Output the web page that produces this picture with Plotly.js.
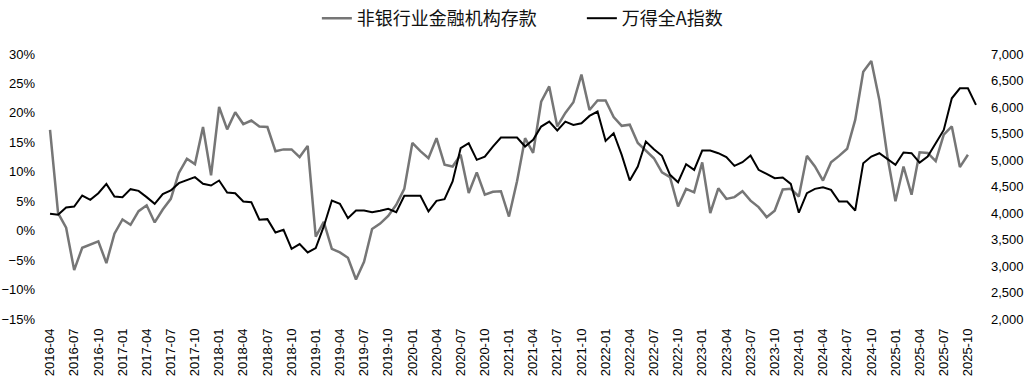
<!DOCTYPE html>
<html>
<head>
<meta charset="utf-8">
<script src="https://cdn.plot.ly/plotly-3.0.1.min.js"></script>
<style>html,body{margin:0;padding:0;background:#fff;}#chart{width:1035px;height:384px;}</style>
</head>
<body>
<div id="chart"></div>
<script>
const months = [
"2016-04","2016-05","2016-06","2016-07","2016-08","2016-09","2016-10","2016-11","2016-12",
"2017-01","2017-02","2017-03","2017-04","2017-05","2017-06","2017-07","2017-08","2017-09","2017-10","2017-11","2017-12",
"2018-01","2018-02","2018-03","2018-04","2018-05","2018-06","2018-07","2018-08","2018-09","2018-10","2018-11","2018-12",
"2019-01","2019-02","2019-03","2019-04","2019-05","2019-06","2019-07","2019-08","2019-09","2019-10","2019-11","2019-12",
"2020-01","2020-02","2020-03","2020-04","2020-05","2020-06","2020-07","2020-08","2020-09","2020-10","2020-11","2020-12",
"2021-01","2021-02","2021-03","2021-04","2021-05","2021-06","2021-07","2021-08","2021-09","2021-10","2021-11","2021-12",
"2022-01","2022-02","2022-03","2022-04","2022-05","2022-06","2022-07","2022-08","2022-09","2022-10","2022-11","2022-12",
"2023-01","2023-02","2023-03","2023-04","2023-05","2023-06","2023-07","2023-08","2023-09","2023-10","2023-11","2023-12",
"2024-01","2024-02","2024-03","2024-04","2024-05","2024-06","2024-07","2024-08","2024-09","2024-10","2024-11","2024-12",
"2025-01","2025-02","2025-03","2025-04","2025-05","2025-06","2025-07","2025-08","2025-09","2025-10","2025-11"
];

// 非银行业金融机构存款 同比 (%), left axis
const depositYoY = [
17.1,3.0,0.5,-6.7,-2.9,-2.4,-1.8,-5.5,-0.5,
1.9,1.0,3.3,4.3,1.4,3.6,5.4,9.8,12.2,11.3,17.6,9.4,
21.0,17.2,20.1,18.1,18.7,17.7,17.6,13.5,13.8,13.8,12.5,14.4,
-1.0,1.5,-3.1,-3.7,-4.6,-8.3,-5.3,0.3,1.2,2.5,4.4,7.1,
14.9,13.5,12.3,15.7,11.2,10.9,12.9,6.4,9.9,6.1,6.6,6.7,
2.4,8.4,15.7,13.2,21.9,24.5,17.7,20.0,21.8,26.5,20.5,22.1,
22.1,19.3,17.8,18.0,14.9,13.6,12.3,9.9,9.1,4.1,7.1,6.5,
11.6,3.0,7.2,5.4,5.7,6.7,5.1,4.0,2.3,3.4,7.0,7.1,
5.8,12.7,10.9,8.5,11.6,12.7,13.9,18.8,27.0,28.8,22.2,12.6,
5.0,10.9,6.1,13.3,13.2,11.8,16.3,17.7,10.8,12.9
];

// 万得全A指数, right axis
const windA = [
3985,3966,4104,4123,4330,4249,4374,4550,4312,
4299,4450,4418,4299,4173,4356,4425,4563,4613,4676,4550,4519,
4613,4387,4374,4217,4205,3872,3884,3633,3683,3325,3413,3256,
3338,3746,4236,4173,3903,4048,4048,4016,4041,4079,4016,4324,
4324,4324,4029,4230,4261,4594,5223,5317,5003,5065,5254,5424,
5424,5424,5254,5380,5631,5725,5556,5725,5662,5694,5832,5914,
5361,5505,5097,4613,4877,5348,5204,5080,4720,4580,4921,4814,
5179,5179,5128,5053,4890,4959,5084,4814,4739,4657,4670,4550,
4005,4374,4456,4487,4437,4217,4217,4048,4940,5065,5128,5015,
4908,5141,5128,4952,5065,5317,5568,6165,6353,6353,6039
];

const tickLabels = [
"2016-04","2016-07","2016-10","2017-01","2017-04","2017-07","2017-10",
"2018-01","2018-04","2018-07","2018-10","2019-01","2019-04","2019-07","2019-10",
"2020-01","2020-04","2020-07","2020-10","2021-01","2021-04","2021-07","2021-10",
"2022-01","2022-04","2022-07","2022-10","2023-01","2023-04","2023-07","2023-10",
"2024-01","2024-04","2024-07","2024-10","2025-01","2025-04","2025-07","2025-10"
];

const seriesNames = ["非银行业金融机构存款", "万得全A指数"];

// tick marks on the zero-crossing category axis: boundaries every 3 categories
const boundaryTicks = tickLabels.map(t => months.indexOf(t) - 0.5);

const tickFont = {family: "Liberation Sans, Arial, sans-serif", size: 13, color: "#000"};

// layout geometry (pixels)
const H = 384, mT = 0, mB = 65, plotTop = 54;
const paperH = H - mT - mB;
const domTop = (H - mB - plotTop) / paperH;
const yRange = [-15, 30];
const zeroPos = domTop * (0 - yRange[0]) / (yRange[1] - yRange[0]);

const traces = [
  {x: months, y: depositYoY, name: seriesNames[0], type: "scatter", mode: "lines",
   line: {color: "#767676", width: 2.5}, xaxis: "x", yaxis: "y"},
  {x: months.slice(0, windA.length), y: windA, name: seriesNames[1], type: "scatter", mode: "lines",
   line: {color: "#000000", width: 2}, xaxis: "x", yaxis: "y2"}
];

const layout = {
  width: 1035, height: H,
  margin: {l: 46, r: 55, t: mT, b: mB},
  paper_bgcolor: "#fff", plot_bgcolor: "#fff",
  showlegend: true,
  legend: {orientation: "h", x: 0.29, xanchor: "left", y: 1, yanchor: "top",
    entrywidth: 220, entrywidthmode: "pixels",
    font: {family: "Noto Sans CJK SC, sans-serif", size: 18, color: "#111"}, itemwidth: 30, bgcolor: "rgba(0,0,0,0)"},
  xaxis: {type: "category", range: [-0.5, months.length - 0.5], tickmode: "array",
    tickvals: tickLabels, ticktext: tickLabels, tickangle: -90, showline: false, ticks: "",
    showgrid: false, zeroline: false, tickfont: tickFont, ticklabelstandoff: 6, fixedrange: true},
  xaxis2: {type: "linear", overlaying: "x", anchor: "free", position: zeroPos,
    range: [-0.5, months.length - 0.5], tickmode: "array", tickvals: boundaryTicks,
    showticklabels: false, ticks: "outside", ticklen: 4, tickwidth: 1, tickcolor: "#c8c8c8",
    showline: true, linecolor: "#c8c8c8", linewidth: 2, showgrid: false, zeroline: false},
  yaxis: {domain: [0, domTop], range: yRange, dtick: 5, tick0: 0, ticksuffix: "%", showgrid: false, zeroline: false,
    showline: false, ticks: "", tickfont: tickFont, ticklabelstandoff: 10},
  yaxis2: {range: [2000, 7000], dtick: 500, tick0: 2000, tickformat: ",.0f", overlaying: "y", side: "right",
    showgrid: false, zeroline: false, showline: false, ticks: "", tickfont: tickFont, ticklabelstandoff: 10}
};

Plotly.newPlot("chart", traces, layout, {displayModeBar: false, staticPlot: true});
</script>
</body>
</html>
